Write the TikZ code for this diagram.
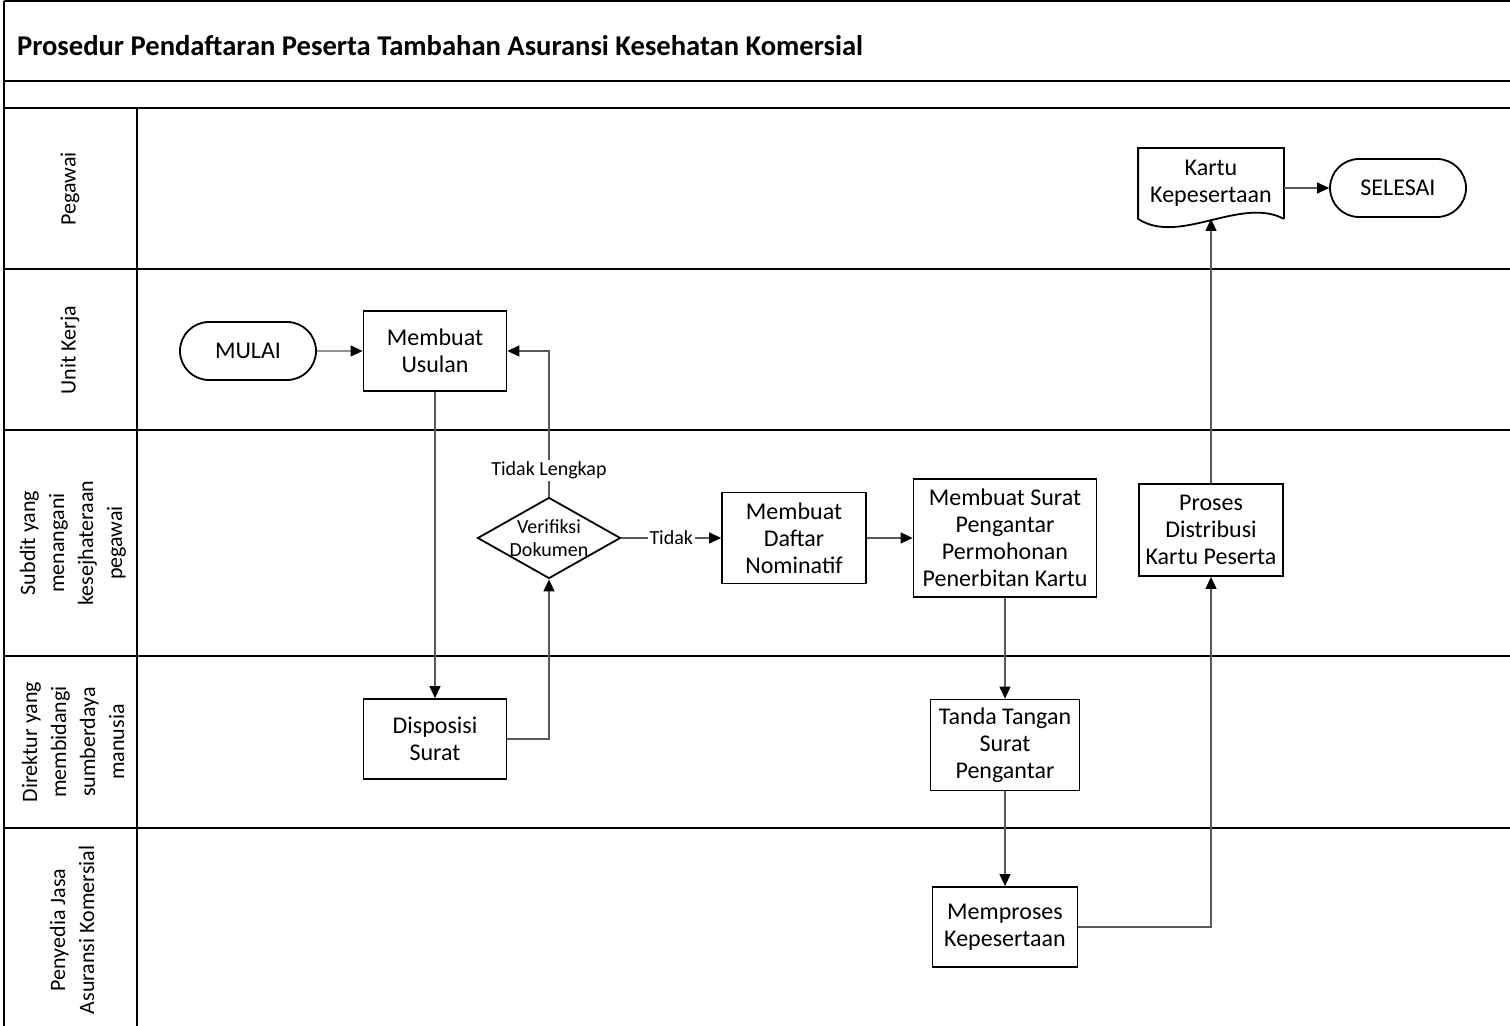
\documentclass[tikz,border=0pt]{standalone}
\usepackage{fontspec}
\setmainfont{Carlito}
\usepackage{tikz}
\usetikzlibrary{shapes.geometric,shapes.misc,arrows.meta}

\begin{document}
\begin{tikzpicture}[x=0.5pt, y=-0.5pt,
	proc/.style={draw=black, line width=0.9pt, align=center, inner sep=2pt, font=\fontsize{12}{13.5}\selectfont},
	term/.style={proc, rounded rectangle, minimum width=72pt, minimum height=29pt},
	decision/.style={diamond, draw=black, line width=0.9pt, inner sep=0pt, minimum width=71.5pt, minimum height=40.5pt},
	lanetext/.style={rotate=90, align=center, font=\fontsize{11}{14.5}\selectfont},
	flow/.style={draw=black!65, line width=0.6pt, -{Triangle[length=6pt, width=5.5pt, color=black]}},
	lbl/.style={fill=white, inner sep=1pt, font=\fontsize{10}{11.5}\selectfont},
	lane/.style={line width=1pt}]
	\useasboundingbox (0,0) rectangle (1510,1026);
	% frame, title band and swimlanes
	\draw[lane] (4,1) -- (1510,1);
	\draw[lane] (4,1) -- (4,1026);
	\draw[lane] (4,81) -- (1510,81);
	\draw[lane] (4,108) -- (1510,108);
	\foreach \y in {269,430,656,828}
		\draw[lane] (4,\y) -- (1510,\y);
	\draw[lane] (137,108) -- (137,1026);
	%
	\node[anchor=west, font=\fontsize{14.3}{16}\selectfont\bfseries] (judul) at (10,46) {Prosedur Pendaftaran Peserta Tambahan Asuransi Kesehatan Komersial};
	% lane names
	\node[lanetext] (lpegawai) at (70,189) {Pegawai};
	\node[lanetext] (lunit) at (70,350) {Unit Kerja};
	\node[lanetext] (lsubdit) at (73,543) {Subdit yang\\menangani\\kesejhateraan\\pegawai};
	\node[lanetext] (ldirektur) at (73,742) {Direktur yang\\membidangi\\sumberdaya\\manusia};
	\node[lanetext] (lpenyedia) at (72,930) {Penyedia Jasa\\Asuransi Komersial};
	% steps
	\node[term] (mulai) at (248,351) {MULAI};
	\node[proc, minimum width=71.5pt, minimum height=40pt] (usulan) at (435,351) {Membuat\\Usulan};
	\node[proc, minimum width=71.5pt, minimum height=40pt] (disposisi) at (435,739) {Disposisi\\Surat};
	\node[decision, label={[align=center, font=\fontsize{10}{11.5}\selectfont]center:Verifiksi\\Dokumen}] (verif) at (549,538) {};
	\node[proc, minimum width=72pt, minimum height=45.5pt] (nominatif) at (794,538) {Membuat\\Daftar\\Nominatif};
	\node[proc, minimum width=91.5pt, minimum height=59pt] (pengantar) at (1005,538) {Membuat Surat\\Pengantar\\Permohonan\\Penerbitan Kartu};
	\node[proc, minimum width=74.5pt, minimum height=45.5pt] (tandatangan) at (1005,745) {Tanda Tangan\\Surat\\Pengantar};
	\node[proc, minimum width=72.5pt, minimum height=40pt] (memproses) at (1005,927) {Memproses\\Kepesertaan};
	\node[proc, minimum width=72pt, minimum height=46pt] (distribusi) at (1211,530) {Proses\\Distribusi\\Kartu Peserta};
	\node[proc, draw=none, minimum width=72pt, minimum height=34.5pt] (kartu) at (1211,183.5) {Kartu\\Kepesertaan};
	\draw[line width=0.9pt] (kartu.south east) -- (kartu.north east) -- (kartu.north west) -- (kartu.south west)
		.. controls +(41,27) and +(-43,-23) .. (kartu.south east);
	\node[term] (selesai) at (1398,188) {SELESAI};
	% connectors
	\draw[flow] (mulai) -- (usulan);
	\draw[flow] (usulan) -- (disposisi);
	\draw[flow] (disposisi.east) -| (verif.south);
	\draw[flow] (verif.north) |- node[lbl, pos=0.09] {Tidak Lengkap} (usulan.east);
	\draw[flow] (verif) -- node[lbl] {Tidak} (nominatif);
	\draw[flow] (nominatif) -- (pengantar);
	\draw[flow] (pengantar) -- (tandatangan);
	\draw[flow] (tandatangan) -- (memproses);
	\draw[flow] (memproses.east) -| (distribusi.south);
	\draw[flow] (distribusi) -- (kartu.south);
	\draw[flow] (kartu.east |- selesai.west) -- (selesai.west);
\end{tikzpicture}
\end{document}
